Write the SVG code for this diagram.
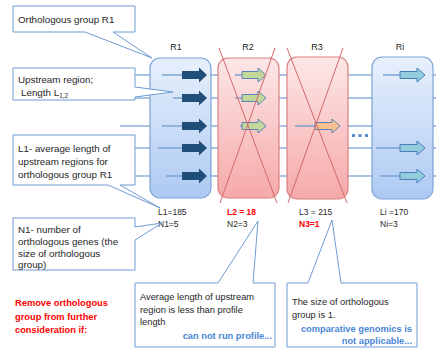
<svg xmlns="http://www.w3.org/2000/svg" width="436" height="348" viewBox="0 0 436 348">
<defs>
<linearGradient id="gb" x1="0" y1="0" x2="0" y2="1"><stop offset="0" stop-color="#E8F0FC"/><stop offset="1" stop-color="#ADC9F2"/></linearGradient>
<linearGradient id="gr" x1="0" y1="0" x2="0" y2="1"><stop offset="0" stop-color="#FDE7E7"/><stop offset="1" stop-color="#F6A9A9"/></linearGradient>
<style>
.t{font-family:"Liberation Sans",Arial,sans-serif;fill:#262626;}
.c{fill:#fff;stroke:#6E9BD2;stroke-width:1;}
.hl{stroke:#8DB1DB;stroke-width:1.5;fill:none;}
.gl{stroke:#6F9BD0;stroke-width:1.3;fill:none;}
.bb{fill:url(#gb);stroke:#7BA3D6;stroke-width:1.2;}
.rb{fill:url(#gr);stroke:#D98080;stroke-width:1.2;}
.x{stroke:#D26A6A;stroke-width:1;}
.red{fill:#FF0000;font-weight:bold;}
.blu{fill:#4A86D8;font-weight:bold;}
</style>
</defs>
<g id="connectors">
<line class="hl" x1="120" y1="75" x2="436" y2="75"/>
<line class="hl" x1="120" y1="98" x2="436" y2="98"/>
<line class="hl" x1="120" y1="126" x2="436" y2="126"/>
<line class="hl" x1="120" y1="148" x2="436" y2="148"/>
<line class="hl" x1="120" y1="176" x2="436" y2="176"/>
</g>
<g id="R1">
<text class="t" x="176" y="50" font-size="9" text-anchor="middle">R1</text>
<rect class="bb" x="150" y="58" width="61" height="140" rx="10"/>
<g fill="#1F4E79">
<line class="gl" x1="162" y1="75" x2="183" y2="75"/><path d="M182,71 H199 V67.5 L207,75 L199,82.5 V79 H182 Z"/>
<line class="gl" x1="173" y1="98" x2="183" y2="98"/><path d="M182,94 H199 V90.5 L207,98 L199,105.5 V102 H182 Z"/>
<line class="gl" x1="162" y1="126" x2="183" y2="126"/><path d="M182,122 H199 V118.5 L207,126 L199,133.5 V130 H182 Z"/>
<line class="gl" x1="158" y1="148" x2="183" y2="148"/><path d="M182,144 H199 V140.5 L207,148 L199,155.5 V152 H182 Z"/>
<line class="gl" x1="166" y1="176" x2="183" y2="176"/><path d="M182,172 H199 V168.5 L207,176 L199,183.5 V180 H182 Z"/>
</g>
<text class="t" x="158" y="215" font-size="8.5">L1=185</text>
<text class="t" x="158" y="227" font-size="8.5">N1=5</text>
</g>
<g id="R2">
<text class="t" x="248" y="50" font-size="9" text-anchor="middle">R2</text>
<rect class="rb" x="218" y="58" width="61" height="140" rx="10"/>
<g fill="#C3D69B" stroke="#5B84B5" stroke-width="1">
<line class="gl" x1="235" y1="75" x2="243" y2="75"/><path d="M242,71.5 H258 V68 L266,75 L258,82 V78.5 H242 Z"/>
<line class="gl" x1="235" y1="98" x2="243" y2="98"/><path d="M242,94.5 H258 V91 L266,98 L258,105 V101.5 H242 Z"/>
<line class="gl" x1="240" y1="126" x2="243" y2="126"/><path d="M242,122.5 H258 V119 L266,126 L258,133 V129.5 H242 Z"/>
</g>
<line class="x" x1="219" y1="48" x2="277" y2="203"/>
<line class="x" x1="275" y1="48" x2="220" y2="203"/>
<text class="t red" x="227" y="215" font-size="8.5">L2 = 18</text>
<text class="t" x="227" y="227" font-size="8.5">N2=3</text>
</g>
<g id="R3">
<text class="t" x="317" y="50" font-size="9" text-anchor="middle">R3</text>
<rect class="rb" x="287" y="57" width="61" height="142" rx="10"/>
<g fill="#FAC090" stroke="#5B84B5" stroke-width="1">
<line class="gl" x1="295" y1="126" x2="316" y2="126"/><path d="M315,122.5 H332 V119 L340,126 L332,133 V129.5 H315 Z"/>
</g>
<line class="x" x1="287" y1="48" x2="347" y2="203"/>
<line class="x" x1="343" y1="48" x2="288" y2="203"/>
<text class="t" x="299" y="215" font-size="8.5">L3 = 215</text>
<text class="t red" x="299" y="227" font-size="8.5">N3=1</text>
</g>
<g id="dots" fill="#5B8FD0">
<rect x="352" y="134" width="3" height="3"/><rect x="358.5" y="134" width="3" height="3"/><rect x="365" y="134" width="3" height="3"/>
</g>
<g id="Ri">
<text class="t" x="400" y="50" font-size="9" text-anchor="middle">Ri</text>
<rect class="bb" x="372" y="57" width="61" height="142" rx="10"/>
<g fill="#93CDDD" stroke="#4A7EBB" stroke-width="1">
<line class="gl" x1="383" y1="75" x2="401" y2="75"/><path d="M400,71.5 H417 V68 L425,75 L417,82 V78.5 H400 Z"/>
<line class="gl" x1="376" y1="148" x2="401" y2="148"/><path d="M400,144.5 H417 V141 L425,148 L417,155 V151.5 H400 Z"/>
<line class="gl" x1="380" y1="176" x2="401" y2="176"/><path d="M400,172.5 H417 V169 L425,176 L417,183 V179.5 H400 Z"/>
</g>
<text class="t" x="380" y="215" font-size="8.5">Li =170</text>
<text class="t" x="380" y="227" font-size="8.5">Ni=3</text>
</g>
<g id="callout-group">
<path class="c" d="M13,6 H135 V32 H113 L152,58 L85,32 H13 Z"/>
<text class="t" x="18" y="23" font-size="9.8">Orthologous group R1</text>
</g>
<g id="callout-upstream">
<path class="c" d="M13,68 H135 V87 L173,92 L135,97 V100 H13 Z"/>
<text class="t" x="18" y="83" font-size="9.8">Upstream region;</text>
<text class="t" x="21" y="96" font-size="9.8">Length L<tspan font-size="6.5" dy="2">1,2</tspan></text>
</g>
<g id="callout-L1">
<path class="c" d="M13,135 H135 V185 H120 L160,208 L108,185 H13 Z"/>
<text class="t" font-size="9.8"><tspan x="18" y="152">L1- average length of</tspan><tspan x="18" y="165">upstream regions for</tspan><tspan x="18" y="178">orthologous group R1</tspan></text>
</g>
<g id="callout-N1">
<path class="c" d="M13,218 H135 V227 L162,223 L135,240 V270 H13 Z"/>
<text class="t" font-size="9.8"><tspan x="18" y="233">N1- number of</tspan><tspan x="18" y="245">orthologous genes (the</tspan><tspan x="18" y="257">size of orthologous</tspan><tspan x="18" y="268">group)</tspan></text>
</g>
<g id="remove">
<text class="t red" font-size="9.3"><tspan x="15" y="306">Remove orthologous</tspan><tspan x="15" y="320">group from further</tspan><tspan x="15" y="333">consideration if:</tspan></text>
</g>
<g id="callout-avg">
<path class="c" d="M135,283 H218 L258,221 L253,283 H275 V347 H135 Z"/>
<text class="t" font-size="9.3"><tspan x="140" y="300">Average length of upstream</tspan><tspan x="140" y="313">region is less than profile</tspan><tspan x="140" y="325">length</tspan></text>
<text class="t blu" x="272" y="339" font-size="9.3" text-anchor="end">can not run profile...</text>
</g>
<g id="callout-size">
<path class="c" d="M287,283 H308 L332,220 L341,283 H417 V347 H287 Z"/>
<text class="t" font-size="9.3"><tspan x="292" y="305">The size of orthologous</tspan><tspan x="292" y="318">group is 1.</tspan></text>
<text class="t blu" font-size="9.3" text-anchor="end"><tspan x="412" y="332">comparative genomics is</tspan><tspan x="412" y="344">not applicable...</tspan></text>
</g>
</svg>
